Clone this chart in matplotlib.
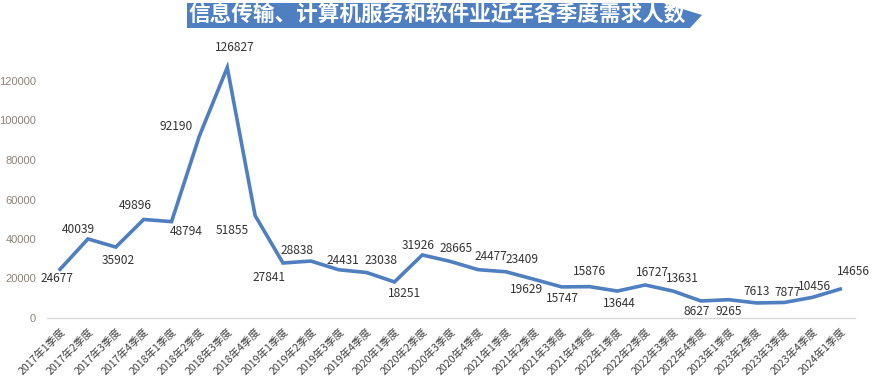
import matplotlib
matplotlib.use("Agg")
import matplotlib.pyplot as plt
from matplotlib.patches import Polygon

plt.rcParams['font.family'] = ['Noto Sans CJK SC', 'DejaVu Sans']

title = '信息传输、计算机服务和软件业近年各季度需求人数'

quarters = [
    '2017年1季度', '2017年2季度', '2017年3季度', '2017年4季度',
    '2018年1季度', '2018年2季度', '2018年3季度', '2018年4季度',
    '2019年1季度', '2019年2季度', '2019年3季度', '2019年4季度',
    '2020年1季度', '2020年2季度', '2020年3季度', '2020年4季度',
    '2021年1季度', '2021年2季度', '2021年3季度', '2021年4季度',
    '2022年1季度', '2022年2季度', '2022年3季度', '2022年4季度',
    '2023年1季度', '2023年2季度', '2023年3季度', '2023年4季度',
    '2024年1季度',
]
demand = [
    24677, 40039, 35902, 49896,
    48794, 92190, 126827, 51855,
    27841, 28838, 24431, 23038,
    18251, 31926, 28665, 24477,
    23409, 19629, 15747, 15876,
    13644, 16727, 13631, 8627,
    9265, 7613, 7877, 10456,
    14656,
]
# label offsets in pixels (dx, dy), picked by eye from the reference
label_offsets = [
    (-3, -9), (-10, 9), (2, -13), (-8, 14),
    (15, -10), (-23, 9), (8, 20), (-23, -15),
    (-14, -14), (-14, 11), (4, 9), (14, 12),
    (10, -12), (-4, 9), (6, 13), (13, 13),
    (16, 12), (-7, -10), (1, -12), (0, 15),
    (2, -12), (7, 12), (9, 13), (-4, -11),
    (0, -12), (0, 11), (3, 10), (2, 11),
    (13, 18),
]

W, H = 874, 391
fig = plt.figure(figsize=(W / 100, H / 100), dpi=100)
ax = fig.add_axes([47 / W, 1 - 318 / H, (855 - 47) / W, (318 - 41.5) / H])

x = list(range(len(demand)))
ax.plot(x, demand, color='#4f7fc0', linewidth=2.6, solid_joinstyle='miter')

for i, v in enumerate(demand):
    dx, dy = label_offsets[i]
    ax.annotate(str(v), (i, v), xytext=(dx, dy), textcoords='offset pixels',
                ha='center', va='center', fontsize=8.6, color='#333333',
                annotation_clip=False)

ax.set_xlim(-0.47, 28.53)
ax.set_ylim(0, 140000)
ax.set_yticks(range(0, 120001, 20000))
ax.set_yticklabels([str(t) for t in range(0, 120001, 20000)], fontsize=8, color='#8c8479',
                   family=['Liberation Sans', 'DejaVu Sans'])
ax.set_xticks(x)
ax.set_xticklabels(quarters, rotation=45, ha='right', rotation_mode='anchor',
                   fontsize=7.6, color='#404040')
ax.tick_params(axis='both', length=0)
ax.tick_params(axis='y', pad=8)
ax.tick_params(axis='x', pad=6)
for s in ['top', 'right', 'left']:
    ax.spines[s].set_visible(False)
ax.spines['bottom'].set_color('#d9d9d9')
ax.spines['bottom'].set_linewidth(1.0)

# title banner shaped like an arrow
pts = [(187, 3), (663, 3), (702, 15), (690, 28), (187, 28)]
banner = Polygon([(px / W, 1 - py / H) for px, py in pts], closed=True,
                 transform=fig.transFigure, facecolor='#4f7fc0', edgecolor='none')
fig.patches.append(banner)
fig.text(189 / W, 1 - 15.5 / H, title, ha='left', va='center', fontsize=15.6,
         fontweight='bold', color='white')

fig.savefig('out.png', dpi=100)
